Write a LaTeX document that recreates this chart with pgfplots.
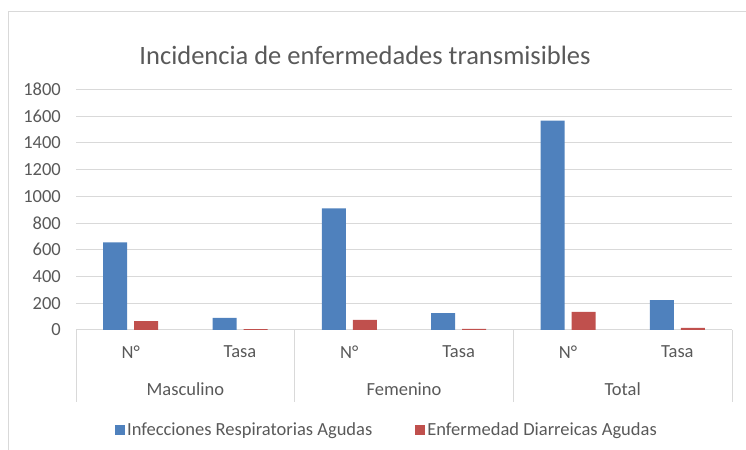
\documentclass[border=0pt]{standalone}
\usepackage{pgfplots}
\pgfplotsset{compat=1.18}
\usepackage{fontspec}
\setmainfont{Carlito}
\definecolor{txt}{HTML}{595959}
\definecolor{grd}{HTML}{D9D9D9}
\definecolor{blu}{HTML}{4F81BD}
\definecolor{rd}{HTML}{C0504D}
\begin{document}
\begin{tikzpicture}[x=1bp,y=1bp]
\path[use as bounding box] (0,0) rectangle (746,450);
\draw[grd, line width=1bp] (8,0) -- (8,438) -- (746,438);
\node[txt, inner sep=0pt, font=\fontsize{26.5bp}{30bp}\selectfont] at (365,395) {Incidencia de enfermedades transmisibles};
\begin{axis}[
  at={(76bp,120bp)}, anchor=south west,
  scale only axis, width=656bp, height=240.7bp,
  xmin=-0.5, xmax=5.5, ymin=0, ymax=1800,
  ytick={0,200,...,1800},
  xtick={0,...,5},
  xticklabels={N°,Tasa,N°,Tasa,N°,Tasa},
  ybar=7bp, bar width=24bp,
  ymajorgrids, grid style={grd, line width=1bp},
  separate axis lines,
  axis x line*=bottom, axis y line*=left,
  x axis line style={grd, line width=1bp, -},
  y axis line style={draw=none},
  major tick length=0pt,
  tick style={draw=none},
  /pgf/number format/assume math mode=true,
  /pgf/number format/1000 sep={},
  ticklabel style={txt, font=\fontsize{18.5bp}{22bp}\selectfont},
  yticklabel style={anchor=east, inner sep=0pt, xshift=-15bp},
  xticklabel style={anchor=center, inner sep=0pt, yshift=-22bp},
  clip=false,
  legend style={at={(0.474,-0.4155)}, anchor=center, legend columns=2, draw=none, fill=none,
    font=\fontsize{18.5bp}{22bp}\selectfont, text=txt,
    /tikz/every even column/.append style={column sep=40bp},
    nodes={inner sep=2.5bp}},
  legend image code/.code={\fill[#1] (0bp,-5bp) rectangle (10bp,5bp);},
]
\addplot[fill=blu, draw=none] coordinates {(0,656) (1,90) (2,910) (3,127) (4,1566) (5,224)};
\addplot[fill=rd, draw=none] coordinates {(0,67) (1,7) (2,75) (3,8) (4,135) (5,15)};
\legend{Infecciones Respiratorias Agudas, Enfermedad Diarreicas Agudas}
\draw[grd, line width=1bp] (axis cs:-0.5,0) -- ([yshift=-72bp]axis cs:-0.5,0);
\draw[grd, line width=1bp] (axis cs:1.5,0) -- ([yshift=-72bp]axis cs:1.5,0);
\draw[grd, line width=1bp] (axis cs:3.5,0) -- ([yshift=-72bp]axis cs:3.5,0);
\draw[grd, line width=1bp] (axis cs:5.5,0) -- ([yshift=-72bp]axis cs:5.5,0);
\node[txt, inner sep=0pt, font=\fontsize{18.5bp}{22bp}\selectfont, yshift=-59bp] at (axis cs:0.5,0) {Masculino};
\node[txt, inner sep=0pt, font=\fontsize{18.5bp}{22bp}\selectfont, yshift=-59bp] at (axis cs:2.5,0) {Femenino};
\node[txt, inner sep=0pt, font=\fontsize{18.5bp}{22bp}\selectfont, yshift=-59bp] at (axis cs:4.5,0) {Total};
\end{axis}
\end{tikzpicture}
\end{document}
